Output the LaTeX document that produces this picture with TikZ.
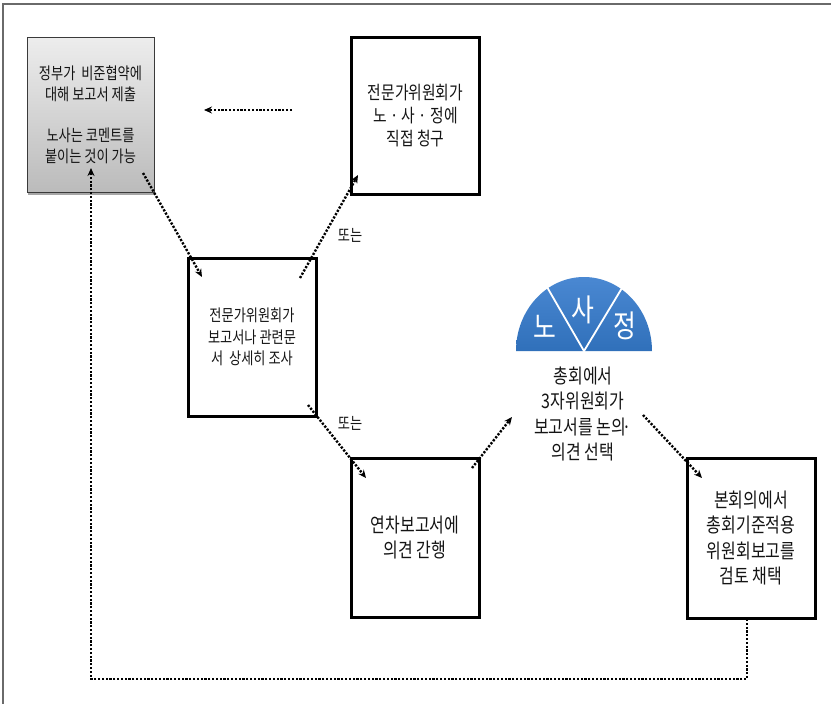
\documentclass[tikz,border=0pt]{standalone}
\usepackage{fontspec}
\newfontfamily\kr[FakeStretch=0.8]{Noto Sans CJK KR}
\usetikzlibrary{arrows.meta,shadows,calc}
\definecolor{framegray}{HTML}{6A6A6A}
\definecolor{txt}{HTML}{141414}
\definecolor{gtop}{HTML}{EDEDED}
\definecolor{gbot}{HTML}{BBBBBB}
\definecolor{gborder}{HTML}{3A3A3A}
\definecolor{semitop}{HTML}{4A88D2}
\definecolor{semibot}{HTML}{3070BA}
\begin{document}
\begin{tikzpicture}[x=1pt,y=-1pt,
  box/.style={draw=black,line width=3pt,fill=white,inner sep=0pt,
    minimum width=128pt,minimum height=158pt,align=center,text=txt},
  graybox/.style={draw=gborder,line width=0.8pt,top color=gtop,bottom color=gbot,
    inner sep=0pt,minimum width=127pt,minimum height=155pt,align=center,text=txt,
    drop shadow={shadow xshift=1pt,shadow yshift=-2.5pt,opacity=0.35,fill=black}},
  conn/.style={line width=2.4pt,dash pattern=on 2.2pt off 1.6pt,
    -{Stealth[length=8pt,width=7pt]}},
  lbl/.style={inner sep=0pt,text=txt,font=\kr\fontsize{16.5}{18}\selectfont},
  fsA/.style={font=\kr\fontsize{18.5}{23}\selectfont},
  fsB/.style={font=\kr\fontsize{16.5}{21.5}\selectfont},
  fsC/.style={font=\kr\fontsize{20}{25.5}\selectfont},
  fsG/.style={font=\kr\fontsize{16.5}{20.7}\selectfont},
  tri/.style={inner sep=0pt,text=white,font=\kr\fontsize{31}{32}\selectfont}]
\useasboundingbox (0,0) rectangle (831,704);
% outer frame (only top and left visible)
\draw[framegray,line width=2pt] (3,704) -- (3,4) -- (831,4);

% boxes
\node[graybox,fsG] (g) at (90.5,114.5)
  {정부가~ 비준협약에\\대해 보고서 제출\\[20.7pt]노사는 코멘트를\\붙이는 것이 가능};
\node[box,fsA,minimum height=157pt] (a) at (415.5,115.5)
  {전문가위원회가\\노 · 사 · 정에\\직접 청구};
\node[box,fsB] (b) at (252,337)
  {전문가위원회가\\보고서나 관련문\\서~ 상세히 조사};
\node[box,fsC,minimum height=159pt] (c) at (415,537.5)
  {연차보고서에\\의견 간행};
\node[box,fsC,minimum height=160pt] (d) at (751,538)
  {본회의에서\\총회기준적용\\위원회보고를\\검토 채택};

% tripartite semicircle
\shade[top color=semitop,bottom color=semibot]
  (516,351) arc[start angle=180,end angle=0,x radius=68pt,y radius=74pt] -- cycle;
\coordinate (sc) at (584,351);
\coordinate (sl) at (547,287);
\coordinate (sr) at (622,288);
\draw[white,line width=1.8pt] (sl) -- (sc) -- (sr);
\node[tri] (no) at (545,327) {노};
\node[tri] (sa) at (583,310) {사};
\node[tri] (jeong) at (625,326) {정};
\node[inner sep=0pt,align=center,text=txt,fsC] (t) at (583,414)
  {총회에서\\3자위원회가\\보고서를 논의\kern-3pt·\\의견 선택};

% labels
\node[lbl] (or1) at (350,235) {또는};
\node[lbl] (or2) at (350,423) {또는};

% connector end points
\coordinate (a1) at (292,110);
\coordinate (g1) at (204,110);
\coordinate (g2) at (143,173);
\coordinate (b1) at (202,277);
\coordinate (b2) at (300,278);
\coordinate (a2) at (358,175);
\coordinate (b3) at (308,405);
\coordinate (c1) at (366,478);
\coordinate (c2) at (472,468);
\coordinate (t1) at (512,417);
\coordinate (t2) at (643,415);
\coordinate (d1) at (702,478);
\coordinate (d2) at (747,619);
\coordinate (g3) at (91,168);
\coordinate (lc) at (91,679);

% connectors
\draw[conn] (a1) -- (g1);
\draw[conn] (g2) -- (b1);
\draw[conn] (b2) -- (a2);
\draw[conn] (b3) -- (c1);
\draw[conn] (c2) -- (t1);
\draw[conn] (t2) -- (d1);
\draw[conn] (d2) |- (lc) -- (g3);
\end{tikzpicture}
\end{document}
